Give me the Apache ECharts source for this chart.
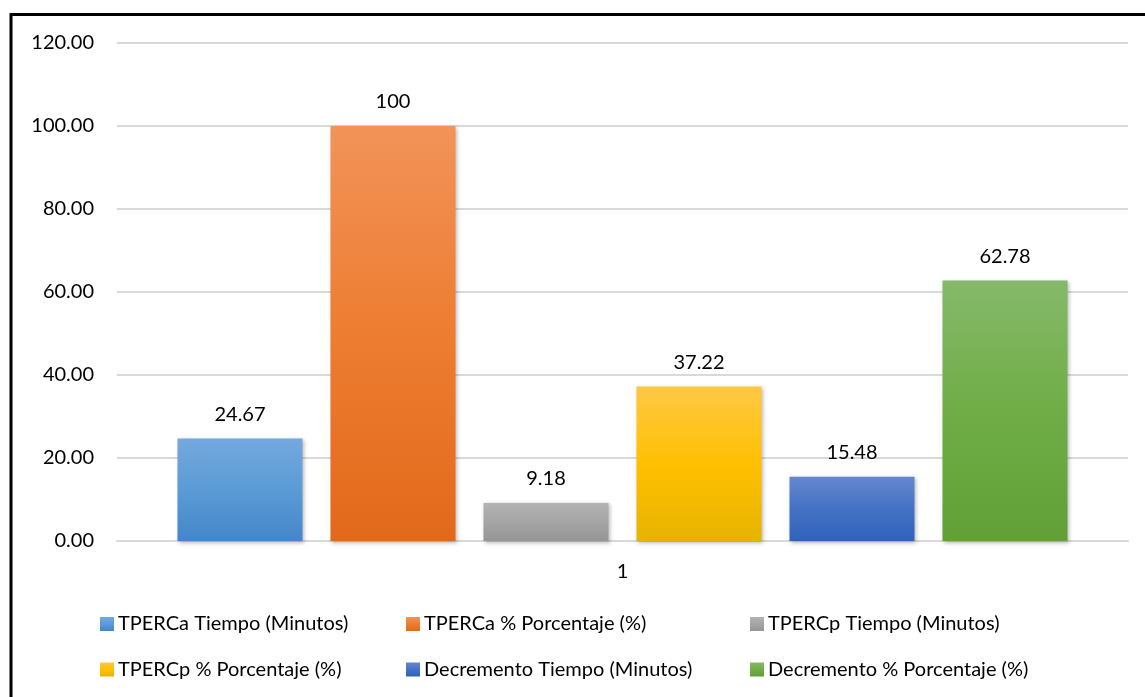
<!DOCTYPE html>
<html>
<head>
<meta charset="utf-8">
<script src="https://cdn.jsdelivr.net/npm/echarts@6/dist/echarts.min.js"></script>
<style>
  html, body { margin: 0; padding: 0; background: #ffffff; }
  #chart { width: 1145px; height: 697px; }
</style>
</head>
<body>
<div id="chart"></div>
<script>
// Categories and values
const categories = ['1'];
const seriesNames = [
  'TPERCa Tiempo (Minutos)',
  'TPERCa % Porcentaje (%)',
  'TPERCp Tiempo (Minutos)',
  'TPERCp % Porcentaje (%)',
  'Decremento Tiempo (Minutos)',
  'Decremento % Porcentaje (%)'
];
const tperCaTiempo = [24.67];
const tperCaPorcentaje = [100];
const tperCpTiempo = [9.18];
const tperCpPorcentaje = [37.22];
const decrementoTiempo = [15.48];
const decrementoPorcentaje = [62.78];
const yTicks = [0, 20, 40, 60, 80, 100, 120];

const seriesValues = [tperCaTiempo, tperCaPorcentaje, tperCpTiempo, tperCpPorcentaje, decrementoTiempo, decrementoPorcentaje];
// label text as printed on each bar
const labelFormats = [v => v.toFixed(2), v => String(v), v => v.toFixed(2), v => v.toFixed(2), v => v.toFixed(2), v => v.toFixed(2)];

// gradient fills: light top, base middle, darker bottom
const palettes = [
  ['#74a9dd', '#5b9bd5', '#4486c9'],
  ['#f29359', '#ed7d31', '#e2691b'],
  ['#b3b3b3', '#a5a5a5', '#959595'],
  ['#ffc845', '#ffc000', '#e6b400'],
  ['#6687d0', '#4472c4', '#2f62bb'],
  ['#85b96a', '#70ad47', '#61a036']
];

function grad(p) {
  return new echarts.graphic.LinearGradient(0, 0, 0, 1, [
    { offset: 0, color: p[0] },
    { offset: 0.5, color: p[1] },
    { offset: 1, color: p[2] }
  ]);
}

const FONT = 'Lato';
const chart = echarts.init(document.getElementById('chart'), null, { renderer: 'canvas' });

const series = seriesNames.map((name, i) => ({
  name: name,
  type: 'bar',
  data: seriesValues[i],
  barWidth: 125,
  barGap: '22.4%',
  itemStyle: {
    color: grad(palettes[i]),
    shadowColor: 'rgba(0,0,0,0.28)',
    shadowBlur: 4,
    shadowOffsetX: 1.5,
    shadowOffsetY: 1.5
  },
  label: {
    show: true,
    position: 'top',
    distance: 14,
    color: '#000000',
    fontFamily: FONT,
    fontSize: 20,
    formatter: p => labelFormats[i](p.value)
  }
}));

// three legend columns, two rows each
const legendCols = [
  { left: 100, names: [seriesNames[0], seriesNames[3]] },
  { left: 406, names: [seriesNames[1], seriesNames[4]] },
  { left: 750, names: [seriesNames[2], seriesNames[5]] }
];

const legends = legendCols.map(c => ({
  orient: 'vertical',
  left: c.left,
  top: 612,
  data: c.names,
  itemWidth: 14,
  itemHeight: 14,
  itemGap: 21.5,
  padding: 0,
  selectedMode: false,
  icon: 'rect',
  textStyle: { fontFamily: FONT, fontSize: 20, color: '#000000', lineHeight: 24, padding: [0, 0, 0, -1] }
}));

chart.setOption({
  animation: false,
  backgroundColor: '#ffffff',
  textStyle: { fontFamily: FONT },
  grid: { left: 117, right: 17, top: 43, bottom: 156, containLabel: false },
  legend: legends,
  xAxis: {
    type: 'category',
    data: categories,
    axisLine: { show: true, lineStyle: { color: '#d9d9d9', width: 2 } },
    axisTick: { show: false },
    axisLabel: { color: '#000000', fontFamily: FONT, fontSize: 20, margin: 21 }
  },
  yAxis: {
    type: 'value',
    min: yTicks[0],
    max: yTicks[yTicks.length - 1],
    interval: yTicks[1] - yTicks[0],
    axisLine: { show: false },
    axisTick: { show: false },
    splitLine: { show: true, lineStyle: { color: '#d9d9d9', width: 2 } },
    axisLabel: {
      color: '#000000', fontFamily: FONT, fontSize: 20, margin: 23,
      formatter: v => v.toFixed(2)
    }
  },
  graphic: [{
    type: 'rect',
    z: 100,
    silent: true,
    shape: { x: 11, y: 14.5, width: 1300, height: 800 },
    style: { fill: 'none', stroke: '#000000', lineWidth: 3 }
  }],
  series: series
});
</script>
</body>
</html>
